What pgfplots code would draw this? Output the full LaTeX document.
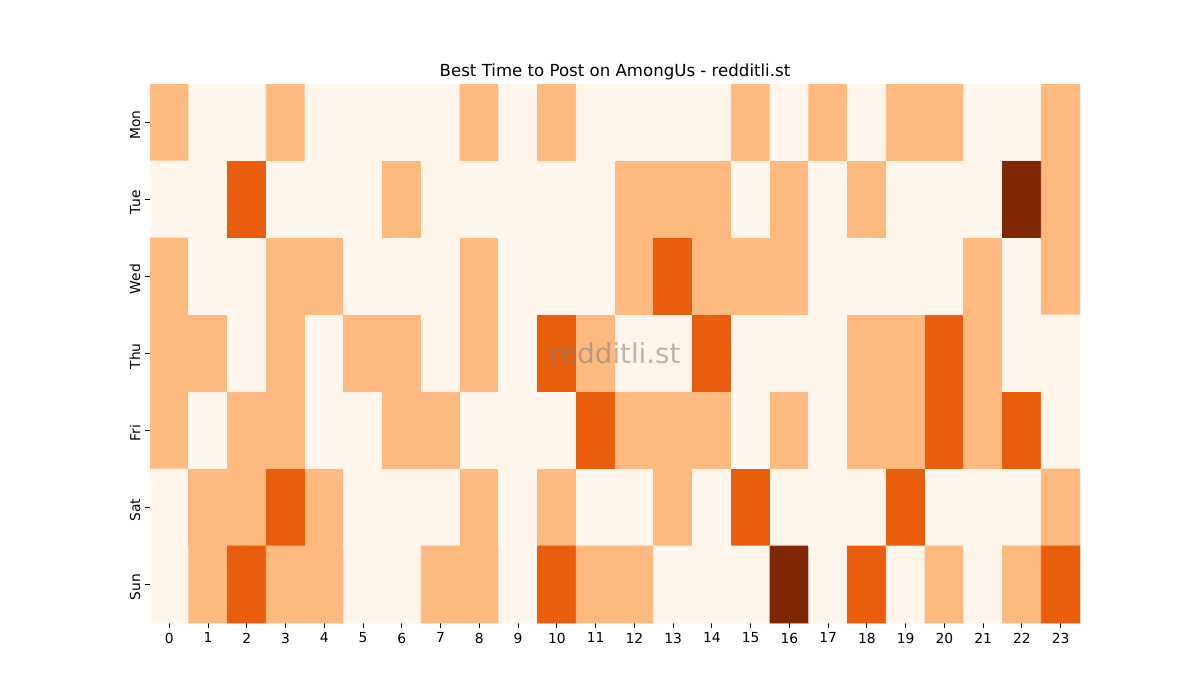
\documentclass[border=0pt]{standalone}
\usepackage{fontspec}
\setmainfont{DejaVu Sans}
\usepackage{pgfplots}
\pgfplotsset{compat=1.18}

\begin{document}
\begin{tikzpicture}
\begin{axis}[
    width=9.3in, height=5.39in, scale only axis,
    xmin=-0.5, xmax=23.5, ymin=-0.5, ymax=6.5,
    y dir=reverse,
    xtick={0,...,23},
    ytick={0,...,6},
    yticklabels={Mon,Tue,Wed,Thu,Fri,Sat,Sun},
    yticklabel style={rotate=90, anchor=south, xshift=-2pt},
    tick label style={font=\fontsize{10}{12}\selectfont},
    /pgf/number format/assume math mode=true,
    axis line style={draw=none},
    tick pos=left, tick align=outside,
    major tick length=3.5pt,
    tick style={black, line width=0.8pt},
    title={Best Time to Post on AmongUs - redditli.st},
    title style={font=\fontsize{12}{14}\selectfont, at={(0.5,1)}, anchor=south, inner sep=0pt, yshift=-3pt},
    colormap={oranges}{rgb255=(255,245,235) rgb255=(253,185,126) rgb255=(233,94,13) rgb255=(127,39,4)},
    colormap access=direct,
]
\addplot[matrix plot*, mesh/cols=24, point meta=explicit] coordinates {
(0,0)[1] (1,0)[0] (2,0)[0] (3,0)[1] (4,0)[0] (5,0)[0] (6,0)[0] (7,0)[0] (8,0)[1] (9,0)[0] (10,0)[1] (11,0)[0] (12,0)[0] (13,0)[0] (14,0)[0] (15,0)[1] (16,0)[0] (17,0)[1] (18,0)[0] (19,0)[1] (20,0)[1] (21,0)[0] (22,0)[0] (23,0)[1]
(0,1)[0] (1,1)[0] (2,1)[2] (3,1)[0] (4,1)[0] (5,1)[0] (6,1)[1] (7,1)[0] (8,1)[0] (9,1)[0] (10,1)[0] (11,1)[0] (12,1)[1] (13,1)[1] (14,1)[1] (15,1)[0] (16,1)[1] (17,1)[0] (18,1)[1] (19,1)[0] (20,1)[0] (21,1)[0] (22,1)[3] (23,1)[1]
(0,2)[1] (1,2)[0] (2,2)[0] (3,2)[1] (4,2)[1] (5,2)[0] (6,2)[0] (7,2)[0] (8,2)[1] (9,2)[0] (10,2)[0] (11,2)[0] (12,2)[1] (13,2)[2] (14,2)[1] (15,2)[1] (16,2)[1] (17,2)[0] (18,2)[0] (19,2)[0] (20,2)[0] (21,2)[1] (22,2)[0] (23,2)[1]
(0,3)[1] (1,3)[1] (2,3)[0] (3,3)[1] (4,3)[0] (5,3)[1] (6,3)[1] (7,3)[0] (8,3)[1] (9,3)[0] (10,3)[2] (11,3)[1] (12,3)[0] (13,3)[0] (14,3)[2] (15,3)[0] (16,3)[0] (17,3)[0] (18,3)[1] (19,3)[1] (20,3)[2] (21,3)[1] (22,3)[0] (23,3)[0]
(0,4)[1] (1,4)[0] (2,4)[1] (3,4)[1] (4,4)[0] (5,4)[0] (6,4)[1] (7,4)[1] (8,4)[0] (9,4)[0] (10,4)[0] (11,4)[2] (12,4)[1] (13,4)[1] (14,4)[1] (15,4)[0] (16,4)[1] (17,4)[0] (18,4)[1] (19,4)[1] (20,4)[2] (21,4)[1] (22,4)[2] (23,4)[0]
(0,5)[0] (1,5)[1] (2,5)[1] (3,5)[2] (4,5)[1] (5,5)[0] (6,5)[0] (7,5)[0] (8,5)[1] (9,5)[0] (10,5)[1] (11,5)[0] (12,5)[0] (13,5)[1] (14,5)[0] (15,5)[2] (16,5)[0] (17,5)[0] (18,5)[0] (19,5)[2] (20,5)[0] (21,5)[0] (22,5)[0] (23,5)[1]
(0,6)[0] (1,6)[1] (2,6)[2] (3,6)[1] (4,6)[1] (5,6)[0] (6,6)[0] (7,6)[1] (8,6)[1] (9,6)[0] (10,6)[2] (11,6)[1] (12,6)[1] (13,6)[0] (14,6)[0] (15,6)[0] (16,6)[3] (17,6)[0] (18,6)[2] (19,6)[0] (20,6)[1] (21,6)[0] (22,6)[1] (23,6)[2]
};
\node[text=gray, opacity=0.55, font=\fontsize{20}{24}\selectfont] at (rel axis cs:0.5,0.5) {redditli.st};
\end{axis}
\path ([shift={(-1.5in,-0.77in)}]current axis.south west) rectangle ([shift={(1.2in,0.84in)}]current axis.north east);
\end{tikzpicture}
\end{document}
